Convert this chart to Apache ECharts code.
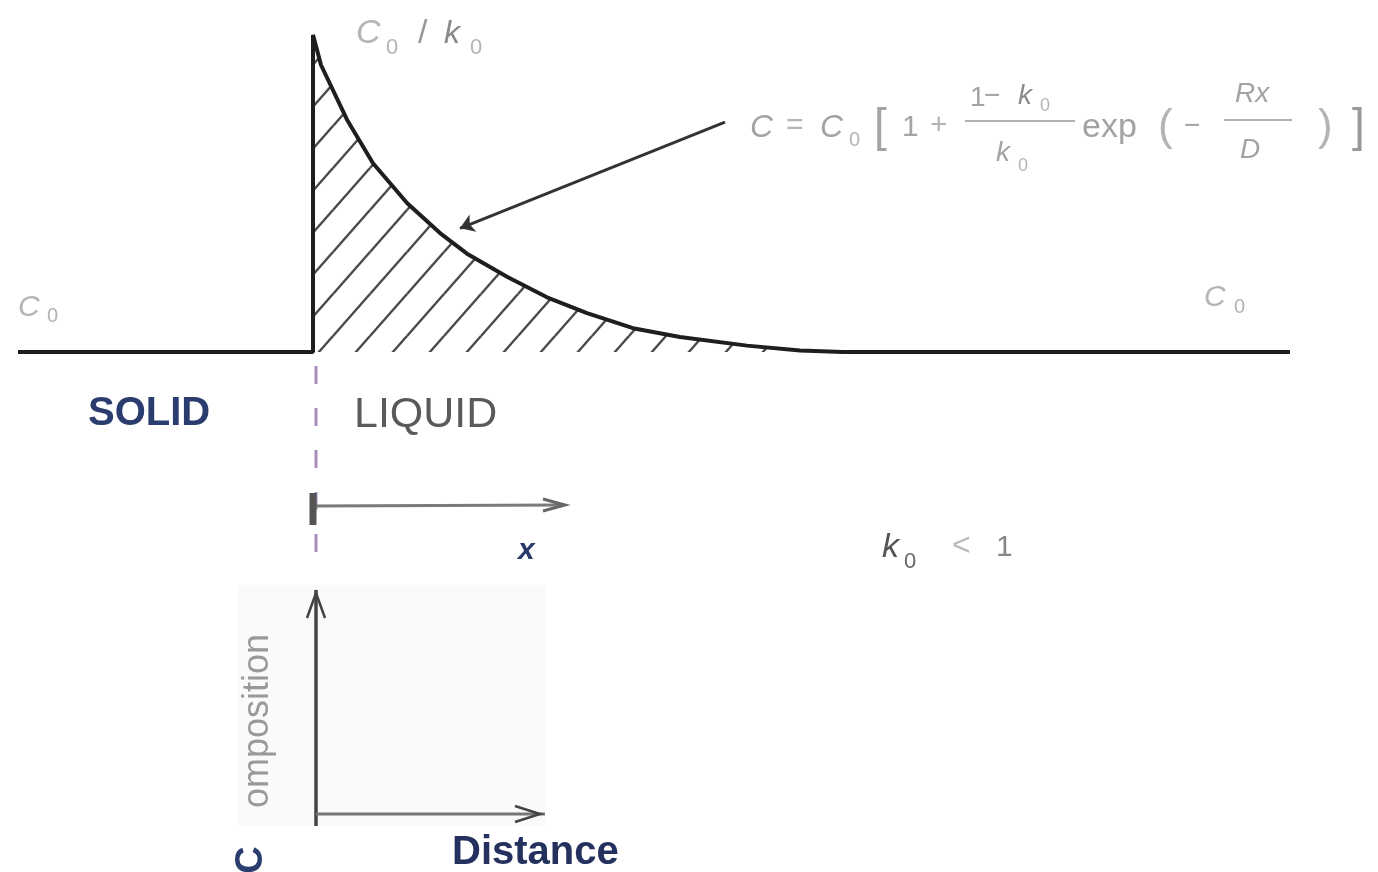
<!DOCTYPE html>
<html><head><meta charset="utf-8">
<script src="https://cdn.jsdelivr.net/npm/echarts@6/dist/echarts.min.js"></script>
<style>html,body{margin:0;padding:0;background:#fff}#c{width:1378px;height:872px}</style>
</head><body><div id="c"></div>
<script>
// Distance from the solid/liquid interface (arbitrary units); concentration in units of C0
const solidX = [-295, 0];
const solidC = [1, 1];
const liquidX = [0, 0, 8, 34, 60, 94, 127, 154, 194, 234, 274, 320, 367, 434, 487, 530, 977];
const liquidC = [1, 5, 4.62, 3.93, 3.38, 2.88, 2.50, 2.24, 1.95, 1.69, 1.49, 1.30, 1.19, 1.08, 1.02, 1.0, 1.0];
const arrowFrom = [412, 3.90];
const arrowTo = [147, 2.56];

const profile = solidX.map((x, i) => [x, solidC[i]]).concat(liquidX.map((x, i) => [x, liquidC[i]]));
const enriched = liquidX.map((x, i) => [x, liquidC[i]]).filter((p, i) => i >= 1 && i <= 15);

// diagonal hatch pattern
const tw = 37, th = 42;
const pc = document.createElement('canvas');
pc.width = tw; pc.height = th;
const g = pc.getContext('2d');
g.strokeStyle = '#4a4a4a'; g.lineWidth = 2.4;
for (const [dx, dy] of [[0,0],[-tw,0],[tw,0],[0,-th],[0,th]]) {
  g.beginPath(); g.moveTo(dx, th + dy); g.lineTo(tw + dx, dy); g.stroke();
}

const FF = '"Liberation Sans", Arial, sans-serif';
function T(x, y, text, size, color, o) {
  o = o || {};
  return {
    type: 'text', x: x, y: y, rotation: o.rot || 0, z: 10,
    style: {
      text: text, fill: color,
      font: (o.italic ? 'italic ' : '') + (o.bold ? 'bold ' : '') + size + 'px ' + FF,
      textAlign: o.align || 'left', textVerticalAlign: 'middle', verticalAlign: 'middle'
    }
  };
}
function L(x1, y1, x2, y2, color, w, dash) {
  return { type: 'line', z: 5, shape: { x1, y1, x2, y2 }, style: { stroke: color, lineWidth: w, lineDash: dash || null } };
}
function P(points, color, w) {
  return { type: 'polyline', z: 5, shape: { points }, style: { stroke: color, lineWidth: w, fill: null } };
}

const gray = '#a3a3a3', lg = '#b4b4b4';
const graphics = [
  // labels on profile
  T(356, 34, 'C', 34, lg, { italic: true }), T(386, 48, '0', 22, lg),
  T(418, 34, '/', 34, '#999'), T(444, 34, 'k', 32, '#888', { italic: true }), T(470, 48, '0', 22, lg),
  T(18, 308, 'C', 30, lg, { italic: true }), T(47, 316, '0', 20, lg),
  T(1204, 298, 'C', 30, lg, { italic: true }), T(1234, 307, '0', 20, lg),
  // formula
  T(750, 128, 'C', 32, gray, { italic: true }), T(786, 126, '=', 30, lg),
  T(820, 128, 'C', 32, gray, { italic: true }), T(849, 140, '0', 20, lg),
  T(874, 128, '[', 46, gray), T(902, 128, '1', 30, gray), T(930, 126, '+', 30, lg),
  T(970, 98, '1', 28, gray), T(984, 96, '\u2212', 28, gray), T(1018, 96, 'k', 28, '#8a8a8a', { italic: true }), T(1040, 106, '0', 18, lg),
  L(965, 121, 1075, 121, '#b0b0b0', 2),
  T(996, 153, 'k', 28, gray, { italic: true }), T(1018, 166, '0', 18, lg),
  T(1082, 128, 'exp', 34, gray), T(1158, 128, '(', 44, lg), T(1184, 126, '\u2212', 28, gray),
  T(1235, 94, 'Rx', 28, gray, { italic: true }), L(1224, 120, 1292, 120, '#b0b0b0', 2),
  T(1240, 150, 'D', 28, gray, { italic: true }),
  T(1318, 128, ')', 44, lg), T(1352, 128, ']', 46, '#999'),
  // region labels
  T(88, 414, 'SOLID', 40, '#2b3d6e', { bold: true }),
  T(354, 415, 'LIQUID', 43, '#5a5a5a'),
  T(518, 551, 'x', 30, '#283a6a', { italic: true, bold: true }),
  T(882, 548, 'k', 34, '#555', { italic: true }), T(904, 562, '0', 22, '#666'),
  T(952, 546, '<', 32, '#bbb'), T(996, 548, '1', 30, '#888'),
  // interface dashed line and x-arrow
  L(316, 366, 316, 562, '#a88cba', 3, [18, 24]),
  L(313, 506, 563, 505, '#7a7a7a', 3),
  P([[543, 499], [565, 505], [543, 511]], '#666', 3),
  L(313, 493, 313, 525, '#555', 7),
  // inset
  { type: 'rect', z: 1, shape: { x: 237, y: 585, width: 308, height: 241 }, style: { fill: '#fafafa' } },
  L(316, 826, 316, 590, '#444', 3.5),
  P([[307, 618], [316, 593], [325, 618]], '#444', 2.5),
  L(316, 814, 545, 814, '#777', 3),
  P([[515, 806], [540, 814], [515, 822]], '#444', 2.5),
  T(258, 721, 'omposition', 36, '#999', { rot: Math.PI / 2, align: 'center' }),
  T(252, 860, 'C', 38, '#2b3d6e', { rot: Math.PI / 2, bold: true, align: 'center' }),
  T(452, 853, 'Distance', 40, '#24305e', { bold: true })
];

const chart = echarts.init(document.getElementById('c'));
chart.setOption({
  animation: false,
  backgroundColor: '#ffffff',
  grid: { left: 0, right: 0, top: 0, bottom: 0 },
  xAxis: { type: 'value', min: -313, max: 1065, show: false },
  yAxis: { type: 'value', min: -5.56, max: 5.44, show: false },
  series: [
    {
      name: 'hatch', type: 'line', data: enriched, symbol: 'none', silent: true,
      lineStyle: { width: 0 },
      areaStyle: { color: { image: pc, repeat: 'repeat' }, origin: 1, opacity: 1 },
      z: 1
    },
    {
      name: 'profile', type: 'line', data: profile, symbol: 'none', silent: true,
      lineStyle: { color: '#1e1e1e', width: 4 }, z: 3,
      markLine: {
        silent: true, symbol: ['none', 'arrow'], symbolSize: 14,
        lineStyle: { color: '#333', width: 3, type: 'solid' },
        label: { show: false },
        data: [[{ coord: arrowFrom }, { coord: arrowTo }]]
      }
    }
  ],
  graphic: graphics
});
</script></body></html>
